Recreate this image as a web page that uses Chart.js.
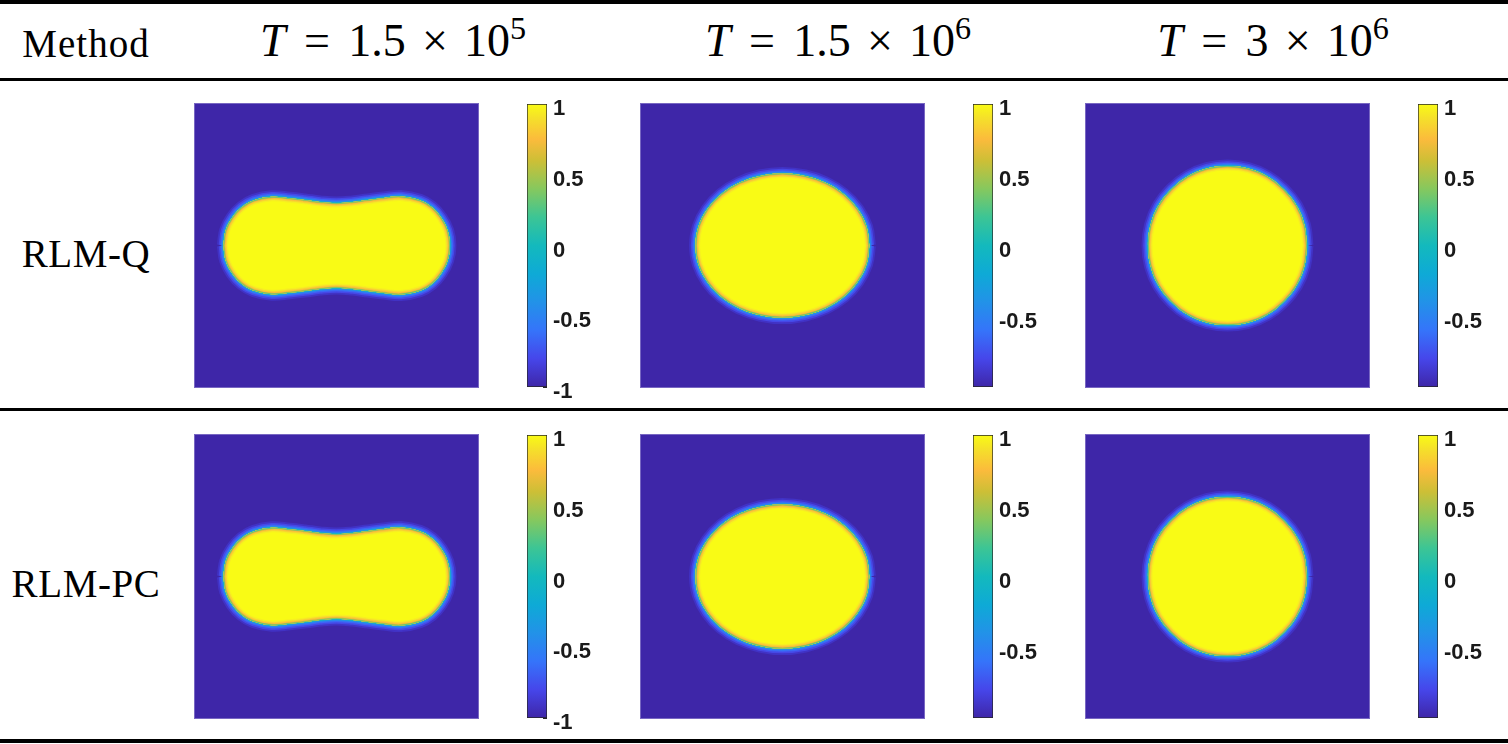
<!DOCTYPE html>
<html lang="en">
  <head>
    <meta charset="UTF-8" />
    <script src="https://cdn.jsdelivr.net/npm/chart.js@4"></script>
    <title>RLM-Q / RLM-PC snapshots</title>
    <style>
      body { margin: 0; background: #fff; width: 1508px; height: 744px; position: relative; overflow: hidden; }
      .rule { position: absolute; left: 0; width: 1508px; background: #000; }
      .txt { position: absolute; font-family: "Liberation Serif", serif; color: #000; white-space: nowrap; line-height: 1; text-align: center; }
      .txt sup { font-size: 0.7em; vertical-align: 0.52em; line-height: 0; }
      .op { margin: 0 0.4em; }
      .op2 { margin: 0 0.35em; }
      canvas { position: absolute; }
    </style>
  </head>
  <body>
    <div class="rule" style="top:0px;height:4px"></div>
    <div class="rule" style="top:78px;height:2.5px"></div>
    <div class="rule" style="top:408px;height:2.5px"></div>
    <div class="rule" style="top:739px;height:4px"></div>
    <script>
      // table text
      const methods = ["RLM-Q", "RLM-PC"];
      const timeMantissa = ["1.5", "1.5", "3"];
      const timeExponent = ["5", "6", "6"];

      // colorbar ticks and ranges per column
      const cbTicks = [-1, -0.5, 0, 0.5, 1];
      const cbMin = [-1, -0.99, -0.99];
      const cbMax = [1, 1, 1];

      // interface (phi = 0 contour), domain [0,1] x [0,1]
      const dumbbellX = [0.103, 0.111, 0.134, 0.167, 0.209, 0.273, 0.336, 0.389, 0.442, 0.500, 0.557, 0.610, 0.666, 0.726, 0.794, 0.835, 0.867, 0.890, 0.898,
                         0.890, 0.867, 0.835, 0.794, 0.726, 0.666, 0.610, 0.557, 0.500, 0.442, 0.389, 0.336, 0.273, 0.209, 0.167, 0.134, 0.111, 0.103];
      const dumbbellY = [0.500, 0.553, 0.598, 0.634, 0.658, 0.671, 0.666, 0.660, 0.653, 0.649, 0.653, 0.660, 0.667, 0.672, 0.658, 0.634, 0.598, 0.553, 0.500,
                         0.447, 0.402, 0.366, 0.342, 0.328, 0.333, 0.340, 0.347, 0.351, 0.347, 0.340, 0.334, 0.329, 0.342, 0.366, 0.402, 0.447, 0.500];
      const ellipseX = [0.805, 0.795, 0.764, 0.716, 0.653, 0.579, 0.500, 0.421, 0.347, 0.284, 0.236, 0.205, 0.195,
                        0.205, 0.236, 0.284, 0.347, 0.421, 0.500, 0.579, 0.653, 0.716, 0.764, 0.795, 0.805];
      const ellipseY = [0.500, 0.566, 0.627, 0.679, 0.719, 0.744, 0.753, 0.744, 0.719, 0.679, 0.627, 0.566, 0.500,
                        0.434, 0.373, 0.321, 0.281, 0.256, 0.247, 0.256, 0.281, 0.321, 0.373, 0.434, 0.500];
      const circleX = [0.779, 0.770, 0.742, 0.697, 0.640, 0.572, 0.500, 0.428, 0.360, 0.303, 0.258, 0.230, 0.221,
                       0.230, 0.258, 0.303, 0.360, 0.428, 0.500, 0.572, 0.640, 0.697, 0.742, 0.770, 0.779];
      const circleY = [0.500, 0.572, 0.640, 0.697, 0.742, 0.770, 0.779, 0.770, 0.742, 0.697, 0.640, 0.572, 0.500,
                       0.428, 0.360, 0.303, 0.258, 0.230, 0.221, 0.230, 0.258, 0.303, 0.360, 0.428, 0.500];

      const shapes = [
        [[dumbbellX, dumbbellY], [ellipseX, ellipseY], [circleX, circleY]],
        [[dumbbellX, dumbbellY], [ellipseX, ellipseY], [circleX, circleY]],
      ];

      // parula-like colour map
      const parula = [
        [0.0, "#3e26a8"], [0.1, "#4646ea"], [0.2, "#3574fa"], [0.3, "#2292e8"],
        [0.4, "#0eaad6"], [0.5, "#13b9bd"], [0.6, "#3cc595"], [0.7, "#86c85e"],
        [0.8, "#cdbf36"], [0.875, "#fbbb3c"], [0.95, "#f5e02a"], [1.0, "#f9fb15"],
      ];
      const outerRing = [
        [13, "#4132c4"], [9.5, "#4648e6"], [6.5, "#3d66f6"], [4, "#2a86ef"], [2, "#17a5d5"],
      ];
      const innerRing = [
        [9, "#f7ef22"], [6.5, "#f8d72e"], [4.5, "#fbbf3b"], [2.8, "#cdbf36"], [1.4, "#5fc77c"],
      ];

      const panelLeft = [194, 640, 1085];
      const rowTop = [103, 434];
      const cbLeft = [527, 973, 1418];
      const colCenter = [393, 838, 1273];

      // ---------- text ----------
      const addText = (html, left, top, width, size) => {
        const d = document.createElement("div");
        d.className = "txt";
        d.innerHTML = html;
        d.style.left = left + "px";
        d.style.top = top + "px";
        d.style.width = width + "px";
        d.style.fontSize = size + "px";
        document.body.appendChild(d);
        return d;
      };
      addText("Method", 0, 24, 172, 39).style.letterSpacing = "1px";
      timeMantissa.forEach((m, c) => {
        addText('<i>T</i><span class="op">=</span>' + m + '<span class="op2">&times;</span>10<sup>' + timeExponent[c] + "</sup>",
          colCenter[c] - 200, 18, 400, 46);
      });
      methods.forEach((m, r) => {
        addText(m, 0, r === 0 ? 234 : 564, 172, 39).style.letterSpacing = "0.6px";
      });

      // ---------- field panels ----------
      const fieldPlugin = {
        id: "field",
        beforeDatasetsDraw(chart) {
          const { ctx, chartArea: a } = chart;
          ctx.save();
          ctx.fillStyle = parula[0][1];
          ctx.fillRect(a.left, a.top, a.width, a.height);
          ctx.restore();
        },
        afterDatasetsDraw(chart) {
          const { ctx, chartArea: a } = chart;
          const line = chart.getDatasetMeta(0).dataset;
          const trace = () => {
            ctx.beginPath();
            line.path(ctx);
            ctx.closePath();
          };
          ctx.save();
          trace();
          ctx.clip();
          innerRing.forEach(([w, col]) => {
            trace();
            ctx.lineWidth = w;
            ctx.strokeStyle = col;
            ctx.stroke();
          });
          ctx.restore();
          ctx.save();
          ctx.strokeStyle = "rgba(255,255,255,0.3)";
          ctx.lineWidth = 1;
          ctx.strokeRect(a.left + 0.5, a.top + 0.5, a.width - 1, a.height - 1);
          ctx.restore();
        },
      };

      const makeCanvas = (left, top, w, h) => {
        const cv = document.createElement("canvas");
        cv.width = w;
        cv.height = h;
        cv.style.left = left + "px";
        cv.style.top = top + "px";
        cv.style.width = w + "px";
        cv.style.height = h + "px";
        document.body.appendChild(cv);
        return cv;
      };

      shapes.forEach((row, r) => {
        row.forEach(([xs, ys], c) => {
          const pts = xs.map((x, i) => ({ x: x, y: ys[i] }));
          const datasets = [
            { data: pts, fill: "shape", backgroundColor: parula[parula.length - 1][1], borderColor: "#1fb9b8", borderWidth: 1 },
          ];
          outerRing.slice().reverse().forEach(([w, col]) => {
            datasets.push({ data: pts, fill: false, borderColor: col, borderWidth: w });
          });
          const cv = makeCanvas(panelLeft[c], rowTop[r], 285, 285);
          new Chart(cv.getContext("2d"), {
            type: "scatter",
            data: { datasets: datasets },
            options: {
              responsive: false,
              animation: false,
              showLine: true,
              elements: { point: { radius: 0 }, line: { tension: 0.4 } },
              layout: { padding: 0 },
              plugins: { legend: { display: false }, tooltip: { enabled: false } },
              scales: {
                x: { type: "linear", min: 0, max: 1, display: false },
                y: { type: "linear", min: 0, max: 1, display: false },
              },
            },
            plugins: [fieldPlugin],
          });

          // ---------- colorbar ----------
          const cb = makeCanvas(cbLeft[c], rowTop[r] + 1 - 12, 72, 283 + 30);
          const lo = cbMin[c], hi = cbMax[c];
          new Chart(cb.getContext("2d"), {
            type: "bar",
            data: {
              labels: [""],
              datasets: [{
                data: [[lo, hi]],
                backgroundColor: (ctx) => {
                  const area = ctx.chart.chartArea;
                  if (!area) return parula[0][1];
                  const g = ctx.chart.ctx.createLinearGradient(0, area.bottom, 0, area.top);
                  parula.forEach(([t, col]) => g.addColorStop(t, col));
                  return g;
                },
                borderColor: "#262626",
                borderWidth: 1,
                borderSkipped: false,
                barPercentage: 1,
                categoryPercentage: 1,
              }],
            },
            options: {
              responsive: false,
              animation: false,
              layout: { padding: { top: 12, bottom: 18, left: 0, right: 0 } },
              plugins: { legend: { display: false }, tooltip: { enabled: false } },
              scales: {
                x: { display: false },
                y: {
                  position: "right",
                  min: lo,
                  max: hi,
                  z: 1,
                  afterBuildTicks: (s) => {
                    s.ticks = cbTicks.filter((v) => v >= lo - 1e-9 && v <= hi + 1e-9).map((v) => ({ value: v }));
                  },
                  afterFit: (s) => {
                    s.width = 52;
                    s.paddingTop = 0;
                    s.paddingBottom = 0;
                  },
                  grid: { drawOnChartArea: false, tickLength: -4, color: "#262626", lineWidth: 1 },
                  border: { display: false },
                  ticks: {
                    padding: 10,
                    labelOffset: 5,
                    color: "#1a1a1a",
                    font: { family: "Liberation Sans", weight: "bold", size: 22 },
                    callback: (v) => String(v),
                  },
                },
              },
            },
          });
        });
      });
    </script>
  </body>
</html>
